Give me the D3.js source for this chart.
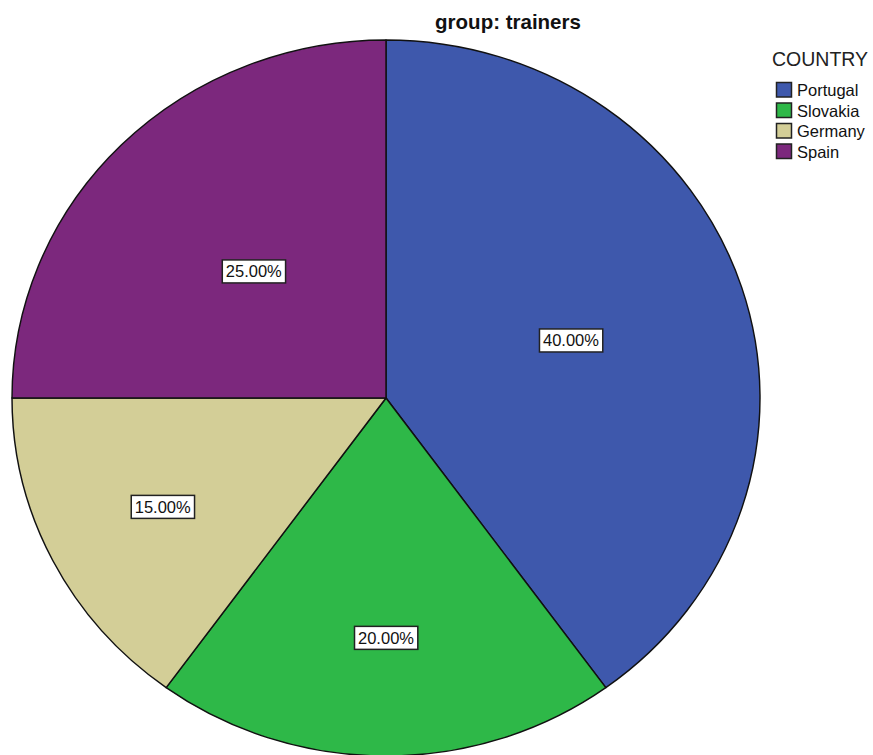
<!DOCTYPE html>
<html>
<head>
<meta charset="utf-8">
<script src="https://cdn.jsdelivr.net/npm/d3@7"></script>
<style>
  html, body { margin: 0; padding: 0; background: #ffffff; }
  svg { display: block; font-family: Arial, "Liberation Sans", sans-serif; }
</style>
</head>
<body>
<svg id="chart" width="873" height="755"></svg>
<script>
// Share of trainers by country
const countries = ["Portugal", "Slovakia", "Germany", "Spain"];
const shares = [40, 20, 15, 25];
const colors = ["#3E58AC", "#2EB848", "#D3CE97", "#7C287D"];
const chartTitle = "group: trainers";
const legendTitle = "COUNTRY";

const W = 873, H = 755;
const cx = 386, cy = 398;
const R = 358;            // vertical radius
const xStretch = 374 / R; // pie is drawn slightly wider than tall

const svg = d3.select("#chart");

const data = countries.map((c, i) => ({ country: c, value: shares[i], color: colors[i] }));
const total = d3.sum(shares);

const pie = d3.pie()
  .value(d => d.value)
  .sort(null)
  .startAngle(0)
  .endAngle(2 * Math.PI);

const arcs = pie(data);
const arc = d3.arc().innerRadius(0).outerRadius(R);

// Slices
const pieG = svg.append("g")
  .attr("transform", `translate(${cx},${cy}) scale(${xStretch},1)`);

pieG.selectAll("path.slice")
  .data(arcs)
  .join("path")
  .attr("class", "slice")
  .attr("d", arc)
  .attr("fill", d => d.data.color)
  .attr("stroke", "#111")
  .attr("stroke-width", 1.4)
  .attr("stroke-linejoin", "round");

// Percentage labels: wide slices near mid-radius, narrow slices further out
const fmt = v => (v / total * 100).toFixed(2) + "%";
const labelRadius = d => {
  const p = d.data.value / total;
  return (p >= 0.3 ? 0.52 : p >= 0.25 ? 0.5 : 0.67) * R;
};

const labelG = svg.append("g");
arcs.forEach(d => {
  const r = labelRadius(d);
  const [lx, ly] = d3.arc().innerRadius(r).outerRadius(r).centroid(d);
  const x = cx + lx * xStretch;
  const y = cy + ly;
  const g = labelG.append("g").attr("transform", `translate(${x},${y})`);
  const t = g.append("text")
    .attr("text-anchor", "middle")
    .attr("dy", "0.36em")
    .attr("font-size", 16.5)
    .attr("fill", "#111")
    .text(fmt(d.data.value));
  const bb = t.node().getBBox();
  g.insert("rect", "text")
    .attr("x", bb.x - 3.5)
    .attr("y", -11.5)
    .attr("width", bb.width + 7)
    .attr("height", 23)
    .attr("fill", "#ffffff")
    .attr("stroke", "#222")
    .attr("stroke-width", 1.5);
});

// Title
svg.append("text")
  .attr("x", 508)
  .attr("y", 29)
  .attr("text-anchor", "middle")
  .attr("font-size", 20.5)
  .attr("font-weight", "bold")
  .attr("fill", "#111")
  .text(chartTitle);

// Legend
const legend = svg.append("g").attr("transform", "translate(772,0)");
legend.append("text")
  .attr("x", 0)
  .attr("y", 66)
  .attr("font-size", 19.5)
  .attr("fill", "#222")
  .text(legendTitle);

const item = legend.selectAll("g.item")
  .data(data)
  .join("g")
  .attr("class", "item")
  .attr("transform", (d, i) => `translate(0,${82 + i * 20.5})`);

item.append("rect")
  .attr("x", 4.5)
  .attr("y", 0.5)
  .attr("width", 15)
  .attr("height", 14.5)
  .attr("fill", d => d.color)
  .attr("stroke", "#222")
  .attr("stroke-width", 1.5);

item.append("text")
  .attr("x", 25)
  .attr("y", 14)
  .attr("font-size", 16.5)
  .attr("fill", "#111")
  .text(d => d.country);
</script>
</body>
</html>
